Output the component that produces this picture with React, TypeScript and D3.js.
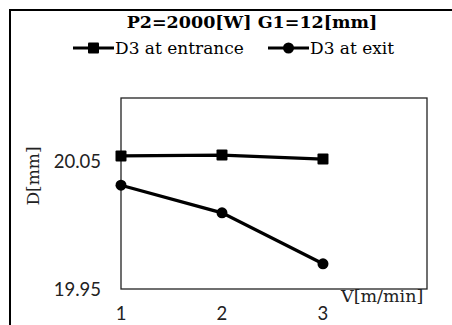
import React, { useEffect, useRef } from 'react';
import * as d3 from 'd3';

const speeds = [1, 2, 3];
const entrance = [20.0545, 20.0552, 20.052];
const exit = [20.0315, 20.0098, 19.9698];
const yTicks = [19.95, 20.05];
const xTicks = [1, 2, 3];
const title = 'P2=2000[W] G1=12[mm]';
const seriesNames = ['D3 at entrance', 'D3 at exit'];

export default function App() {
  const svgRef = useRef<SVGSVGElement>(null);

  useEffect(() => {
    const svg = d3.select(svgRef.current);
    svg.selectAll('*').remove();

    const left = 121, right = 427, top = 98, bottom = 289;
    const x = d3.scaleLinear().domain([1, 4.03]).range([left, right]);
    const y = d3.scaleLinear().domain([19.95, 20.1]).range([bottom, top]);

    // outer frame
    svg.append('rect')
      .attr('x', 10).attr('y', 10).attr('width', 460).attr('height', 330)
      .attr('fill', 'white').attr('stroke', '#000').attr('stroke-width', 2);

    svg.append('text')
      .attr('x', 252).attr('y', 28)
      .attr('text-anchor', 'middle')
      .attr('font-family', 'DejaVu Serif').attr('font-weight', 'bold').attr('font-size', 17.5)
      .text(title);

    // plot area
    svg.append('rect')
      .attr('x', left).attr('y', top).attr('width', right - left).attr('height', bottom - top)
      .attr('fill', 'none').attr('stroke', '#222').attr('stroke-width', 1.3);

    const line = d3.line<[number, number]>().x(d => x(d[0])).y(d => y(d[1]));
    const series = [entrance, exit];

    series.forEach((vals, i) => {
      const pts = speeds.map((s, j) => [s, vals[j]] as [number, number]);
      svg.append('path').attr('d', line(pts)).attr('fill', 'none')
        .attr('stroke', '#000').attr('stroke-width', 3.2);
      pts.forEach(p => {
        if (i === 0) {
          svg.append('rect').attr('x', x(p[0]) - 5.5).attr('y', y(p[1]) - 5.5)
            .attr('width', 11).attr('height', 11).attr('rx', 1).attr('fill', '#000');
        } else {
          svg.append('circle').attr('cx', x(p[0])).attr('cy', y(p[1])).attr('r', 5.5).attr('fill', '#000');
        }
      });
    });

    // ticks
    svg.selectAll('.yt').data(yTicks).enter().append('text')
      .attr('x', 101).attr('y', d => y(d) + 6.5)
      .attr('text-anchor', 'end')
      .attr('font-family', 'Lato').attr('font-size', 18.5).attr('fill', '#222')
      .text(d => d3.format('.2f')(d));

    svg.selectAll('.xt').data(xTicks).enter().append('text')
      .attr('x', d => x(d)).attr('y', 320)
      .attr('text-anchor', 'middle')
      .attr('font-family', 'Lato').attr('font-size', 18.5).attr('fill', '#222')
      .text(d => d);

    svg.append('text')
      .attr('x', 341).attr('y', 302)
      .attr('font-family', 'DejaVu Serif').attr('font-size', 17.5).attr('fill', '#222')
      .text('V[m/min]');

    svg.append('text')
      .attr('transform', 'translate(39,176) rotate(-90)')
      .attr('text-anchor', 'middle')
      .attr('font-family', 'DejaVu Serif').attr('font-size', 17).attr('fill', '#222')
      .text('D[mm]');

    // legend
    const legendX = [73, 268];
    seriesNames.forEach((name, i) => {
      const lx = legendX[i], ly = 48;
      svg.append('line').attr('x1', lx).attr('x2', lx + 41).attr('y1', ly).attr('y2', ly)
        .attr('stroke', '#000').attr('stroke-width', 3.2);
      if (i === 0) {
        svg.append('rect').attr('x', lx + 15).attr('y', ly - 5.5).attr('width', 11).attr('height', 11)
          .attr('rx', 1).attr('fill', '#000');
      } else {
        svg.append('circle').attr('cx', lx + 20.5).attr('cy', ly).attr('r', 5.5).attr('fill', '#000');
      }
      svg.append('text').attr('x', lx + 42).attr('y', ly + 6)
        .attr('font-family', 'DejaVu Serif').attr('font-size', 17).attr('fill', '#000')
        .text(name);
    });
  }, []);

  return (
    <svg ref={svgRef} width={452} height={325}
      style={{ position: 'absolute', left: 0, top: 0, background: 'white' }} />
  );
}
